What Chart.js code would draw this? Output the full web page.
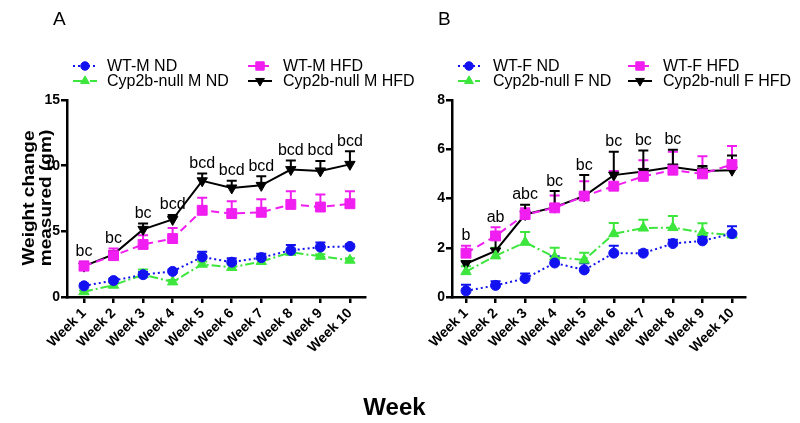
<!DOCTYPE html>
<html><head><meta charset="utf-8">
<script src="https://cdn.jsdelivr.net/npm/chart.js@4/dist/chart.umd.min.js"></script>
<style>
html,body{margin:0;padding:0;background:#fff}
body{width:800px;height:423px;overflow:hidden;position:relative;font-family:"Liberation Sans",Arial,sans-serif;color:#000}
#ca{position:absolute;left:0;top:0}
#cb{position:absolute;left:400px;top:0}
.pl{position:absolute;top:9px;font-size:19px;line-height:19px}
#week{position:absolute;left:0;width:789px;text-align:center;top:394px;font-size:24px;line-height:25px;font-weight:bold}
</style></head>
<body>
<canvas id="ca" width="440" height="423"></canvas>
<canvas id="cb" width="400" height="423"></canvas>
<div class="pl" style="left:53px">A</div>
<div class="pl" style="left:438px">B</div>
<div id="week">Week</div>
<script>
const weeks = ['Week 1','Week 2','Week 3','Week 4','Week 5','Week 6','Week 7','Week 8','Week 9','Week 10'];
const yTicksA = [0,5,10,15];
const yTicksB = [0,2,4,6,8];

// Panel A (males)
const aWtNd      = [0.85,1.25,1.7,1.95,3.05,2.65,3.0,3.55,3.8,3.85];
const aWtNdErr   = [0.15,0.15,0.2,0.15,0.4,0.3,0.3,0.4,0.35,0.15];
const aNullNd    = [0.4,0.9,1.7,1.15,2.5,2.25,2.7,3.4,3.1,2.8];
const aNullNdErr = [0.1,0.15,0.4,0.15,0.2,0.2,0.2,0.2,0.15,0.15];
const aWtHfd     = [2.35,3.15,4.0,4.45,6.6,6.35,6.45,7.05,6.85,7.1];
const aWtHfdErr  = [0.35,0.55,0.7,0.8,0.95,0.95,1.0,1.0,0.95,0.95];
const aNullHfd   = [2.35,3.25,5.15,5.9,8.85,8.3,8.5,9.7,9.6,10.1];
const aNullHfdErr= [0.3,0.25,0.45,0.35,0.55,0.55,0.7,0.7,0.75,1.0];
const aSig = ['bc','bc','bc','bcd','bcd','bcd','bcd','bcd','bcd','bcd'];

// Panel B (females)
const bWtNd      = [0.25,0.47,0.75,1.38,1.1,1.78,1.78,2.17,2.28,2.57];
const bWtNdErr   = [0.25,0.17,0.2,0.27,0.27,0.3,0.12,0.15,0.17,0.3];
const bNullNd    = [1.03,1.67,2.22,1.62,1.5,2.57,2.8,2.82,2.62,2.52];
const bNullNdErr = [0.22,0.33,0.42,0.38,0.3,0.44,0.34,0.47,0.37,0.1];
const bWtHfd     = [1.78,2.48,3.35,3.62,4.1,4.5,4.9,5.15,5.0,5.38];
const bWtHfdErr  = [0.3,0.35,0.25,0.5,0.6,0.62,0.65,0.75,0.72,0.75];
const bNullHfd   = [1.35,1.87,3.35,3.65,4.1,4.95,5.1,5.28,5.12,5.15];
const bNullHfdErr= [0.1,0.55,0.4,0.65,0.85,0.95,0.85,0.7,0.2,0.6];
const bSig = ['b','ab','abc','bc','bc','bc','bc','bc','',''];

const FAM = '"Liberation Sans", Arial, sans-serif';
const BLUE='#1212f0', GREEN='#3de63d', MAG='#f01ef0', BLACK='#000000';

function mk(label, vals, errs, color, dash, style, rot, radius){
  return {label, data: vals.map((v,i)=>({x:i+1,y:v})), errors: errs,
    borderColor: color, backgroundColor: color, borderWidth: 2, borderDash: dash,
    pointStyle: style, pointRotation: rot, pointRadius: radius, pointHoverRadius: radius,
    pointBorderWidth: 1, pointBackgroundColor: color, pointBorderColor: color, tension: 0, fill: false};
}

const errPlugin = {
  id: 'errbars',
  beforeDatasetsDraw(chart){
    const {ctx, scales:{x,y}} = chart;
    chart.data.datasets.forEach(ds=>{
      ctx.save();
      ctx.strokeStyle = ds.borderColor; ctx.lineWidth = 2; ctx.setLineDash([]);
      ds.data.forEach((p,i)=>{
        const e = ds.errors[i];
        const px = x.getPixelForValue(p.x), py = y.getPixelForValue(p.y), pt = y.getPixelForValue(p.y+e);
        ctx.beginPath(); ctx.moveTo(px,py); ctx.lineTo(px,pt);
        ctx.moveTo(px-5,pt); ctx.lineTo(px+5,pt); ctx.stroke();
      });
      ctx.restore();
    });
  }
};

const sigPlugin = {
  id: 'sig',
  afterDatasetsDraw(chart, args, opts){
    const {ctx, scales:{x,y}} = chart;
    ctx.save();
    ctx.fillStyle = '#000'; ctx.font = '16px '+FAM; ctx.textAlign='center'; ctx.textBaseline='bottom';
    opts.labels.forEach((t,i)=>{
      if(!t) return;
      let top = -Infinity;
      chart.data.datasets.forEach(ds=>{ top = Math.max(top, ds.data[i].y + ds.errors[i]); });
      ctx.fillText(t, x.getPixelForValue(i+1), y.getPixelForValue(top) - 2);
    });
    ctx.restore();
  }
};

const legendPlugin = {
  id: 'leg',
  afterDraw(chart, args, opts){
    const ctx = chart.ctx;
    const ds = chart.data.datasets;
    const rows = [66, 81];
    const cols = opts.cols; // [lineStart, lineEnd, textX]
    const slots = [[0,0],[0,1],[1,0],[1,1]]; // dataset -> [col,row]
    ds.forEach((d,k)=>{
      const [c,r] = slots[k];
      const [x0,x1,tx] = cols[c];
      const yy = rows[r];
      ctx.save();
      ctx.strokeStyle = d.borderColor; ctx.lineWidth = 2; ctx.setLineDash(d.borderDash||[]);
      ctx.beginPath(); ctx.moveTo(x0,yy); ctx.lineTo(x1,yy); ctx.stroke();
      ctx.setLineDash([]);
      ctx.fillStyle = d.borderColor; ctx.lineWidth = 1;
      Chart.helpers.drawPoint(ctx, {pointStyle: d.pointStyle, rotation: d.pointRotation, radius: d.pointRadius*0.85, borderWidth:1}, (x0+x1)/2, yy);
      ctx.fillStyle = '#000'; ctx.font = '16px '+FAM; ctx.textAlign='left'; ctx.textBaseline='middle';
      ctx.fillText(d.label, tx, yy+1);
      ctx.restore();
    });
  }
};

const ytitlePlugin = {
  id: 'ytitle',
  afterDraw(chart, args, opts){
    if(!opts.lines) return;
    const ctx = chart.ctx;
    ctx.save();
    ctx.fillStyle='#000'; ctx.font = 'bold 17px '+FAM; ctx.textAlign='center'; ctx.textBaseline='alphabetic';
    opts.lines.forEach((t,i)=>{
      ctx.save();
      ctx.translate(opts.xs[i], 198);
      ctx.rotate(-Math.PI/2);
      ctx.scale(1.12,1);
      ctx.fillText(t, 0, 0);
      ctx.restore();
    });
    ctx.restore();
  }
};

function axisCommon(){
  return {
    grid: {display:true, drawOnChartArea:false, drawTicks:true, tickLength:6, lineWidth:2.5, color:'#000'},
    border: {display:true, width:2.5, color:'#000'}
  };
}

function makeChart(id, datasets, cfg){
  const tickFont = {family: FAM, size: 14, weight: 'bold'};
  return new Chart(document.getElementById(id), {
    type: 'line',
    data: {datasets},
    options: {
      responsive: false, animation: false, devicePixelRatio: 1,
      layout: {padding: {left:0, right: cfg.padRight, top: 100, bottom: 0}},
      plugins: {legend:{display:false}, tooltip:{enabled:false},
        sig: {labels: cfg.sig}, leg: {cols: cfg.legCols}, ytitle: cfg.ytitle},
      scales: {
        x: Object.assign(axisCommon(), {
          type: 'linear', min: cfg.xmin, max: cfg.xmax,
          afterBuildTicks: s => { s.ticks = weeks.map((_,i)=>({value:i+1})); },
          afterFit: s => { s.height = 126; },
          ticks: {autoSkip:false, minRotation:45, maxRotation:45, padding:2, color:'#000', font: tickFont,
            callback: (v) => weeks[Math.round(v)-1]}
        }),
        y: Object.assign(axisCommon(), {
          min: 0, max: cfg.ymax,
          afterBuildTicks: s => { s.ticks = cfg.yticks.map(v=>({value:v})); },
          afterFit: s => { s.width = cfg.yw; },
          ticks: {padding:1, color:'#000', font: tickFont}
        })
      }
    },
    plugins: [errPlugin, sigPlugin, legendPlugin, ytitlePlugin]
  });
}

makeChart('ca', [
  mk('WT-M ND', aWtNd, aWtNdErr, BLUE, [2,3], 'circle', 0, 5),
  mk('Cyp2b-null M ND', aNullNd, aNullNdErr, GREEN, [9,3,2,3], 'triangle', 0, 6),
  mk('WT-M HFD', aWtHfd, aWtHfdErr, MAG, [8,5], 'rect', 0, 7),
  mk('Cyp2b-null M HFD', aNullHfd, aNullHfdErr, BLACK, [], 'triangle', 180, 6)
], {padRight:75, xmin:0.425, xmax:10.51, ymax:15, yticks:yTicksA, yw:67, sig:aSig,
    legCols:[[73,97,107],[248,272,283]],
    ytitle:{lines:['Weight change','measured (gm)'], xs:[34,51]}});

makeChart('cb', [
  mk('WT-F ND', bWtNd, bWtNdErr, BLUE, [2,3], 'circle', 0, 5),
  mk('Cyp2b-null F ND', bNullNd, bNullNdErr, GREEN, [9,3,2,3], 'triangle', 0, 6),
  mk('WT-F HFD', bWtHfd, bWtHfdErr, MAG, [8,5], 'rect', 0, 7),
  mk('Cyp2b-null F HFD', bNullHfd, bNullHfdErr, BLACK, [], 'triangle', 180, 6)
], {padRight:55, xmin:0.526, xmax:10.44, ymax:8, yticks:yTicksB, yw:52, sig:bSig,
    legCols:[[58,80,93],[228,252,263]],
    ytitle:{}});
</script>
</body></html>
